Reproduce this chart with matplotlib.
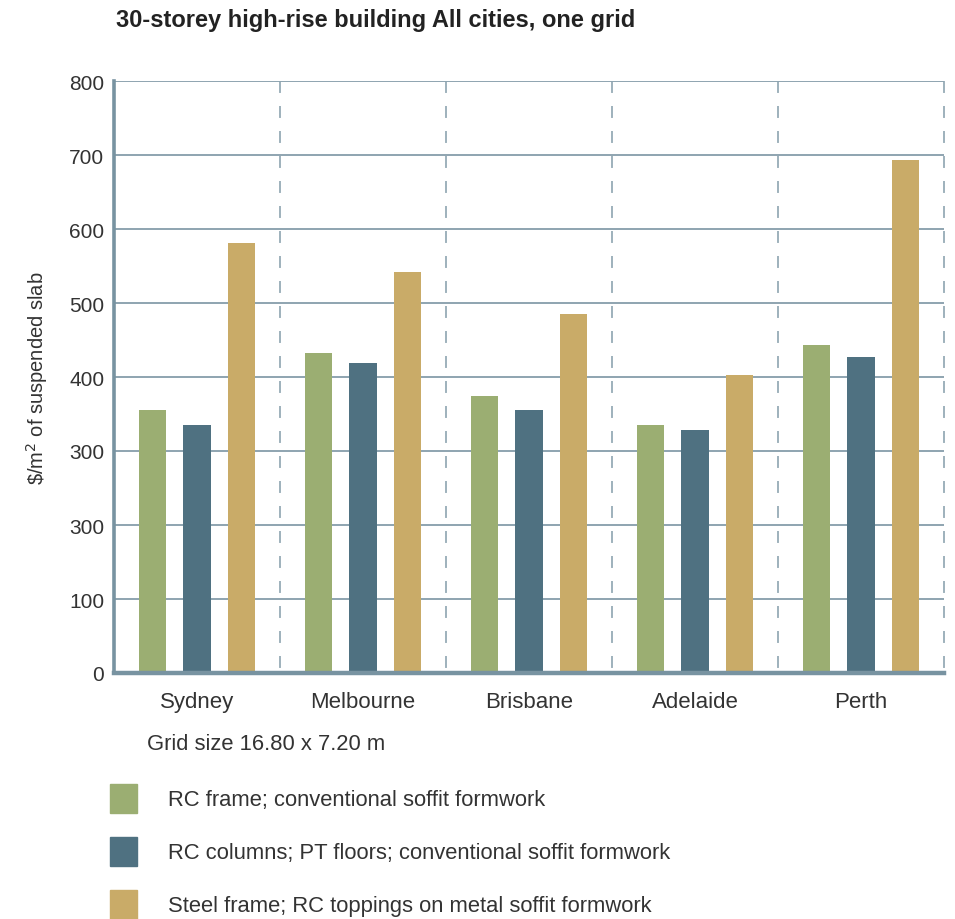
import matplotlib.pyplot as plt
import numpy as np

plt.rcParams['font.family'] = ['Liberation Sans', 'DejaVu Sans']
plt.rcParams['lines.scale_dashes'] = False

# data
cities = ['Sydney', 'Melbourne', 'Brisbane', 'Adelaide', 'Perth']
rc_frame = [355, 432, 374, 335, 443]
rc_pt = [335, 419, 355, 328, 427]
steel = [581, 542, 485, 403, 693]
series_names = ['RC frame; conventional soffit formwork',
                'RC columns; PT floors; conventional soffit formwork',
                'Steel frame; RC toppings on metal soffit formwork']
ytick_vals = [0, 100, 200, 300, 400, 500, 600, 700, 800]
ytick_labels = ['0', '100', '300', '300', '400', '500', '600', '700', '800']

colors = ['#9bae72', '#4f7181', '#c9ab68']
grid_col = '#8ea4b0'
spine_col = '#7893a1'
text_col = '#333333'

fig = plt.figure(figsize=(9.55, 9.2), dpi=100)
ax = fig.add_axes([114 / 955, 246 / 920, 830 / 955, 592 / 920])

x = np.arange(len(cities))
w = 0.163
off = 0.268
for i, vals in enumerate([rc_frame, rc_pt, steel]):
    ax.bar(x + (i - 1) * off, vals, width=w, color=colors[i], zorder=3)

# horizontal grid
for yv in ytick_vals[1:]:
    ax.axhline(yv, color=grid_col, lw=1.4, zorder=1)

# dashed group separators
for xv in x + 0.5:
    ax.plot([xv, xv], [800, 0], color=grid_col, lw=1.2,
            linestyle=(0, (8.6, 9.4)), zorder=1, clip_on=False)

ax.set_xlim(-0.5, 4.5)
ax.set_ylim(0, 800)
ax.set_yticks(ytick_vals)
ax.set_yticklabels(ytick_labels, fontsize=15, color=text_col)
ax.set_xticks(x)
ax.set_xticklabels(cities, fontsize=16, color=text_col)
ax.tick_params(length=0, pad=7)
ax.tick_params(axis='x', pad=13)

for s in ['top', 'right']:
    ax.spines[s].set_visible(False)
ax.spines['left'].set_color(spine_col)
ax.spines['left'].set_linewidth(2.6)
ax.spines['bottom'].set_color(spine_col)
ax.spines['bottom'].set_linewidth(3.2)
ax.spines['bottom'].set_zorder(4)

ax.set_ylabel(r'\$/m$^2$ of suspended slab', fontsize=14.5, color=text_col, labelpad=14)

fig.text(116 / 955, 1 - 20 / 920, '30-storey high-rise building All cities, one grid',
         fontsize=17, fontweight='bold', color='#222222', va='center', ha='left')
fig.text(147 / 955, 1 - 745 / 920, 'Grid size 16.80 x 7.20 m',
         fontsize=15.8, color=text_col, va='center', ha='left')

# legend drawn as squares + text
leg_y = [800, 853, 906]
for i, name in enumerate(series_names):
    yc = leg_y[i]
    fig.patches.append(plt.Rectangle((110 / 955, 1 - (yc + 14) / 920), 27 / 955, 29 / 920,
                                     transform=fig.transFigure, color=colors[i]))
    fig.text(168 / 955, 1 - (yc + 1) / 920, name, fontsize=15.8, color=text_col,
             va='center', ha='left')

fig.savefig('out.png', dpi=100)
